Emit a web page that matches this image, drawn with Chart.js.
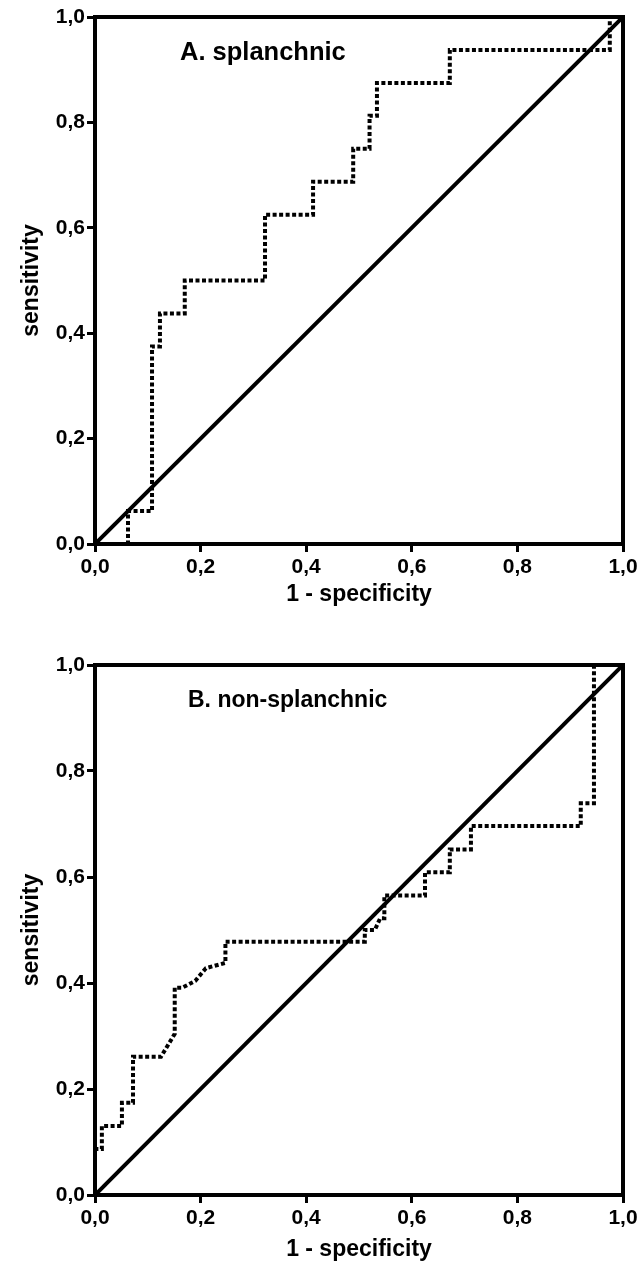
<!DOCTYPE html>
<html>
<head>
<meta charset="utf-8">
<script src="https://cdn.jsdelivr.net/npm/chart.js@4.4.1/dist/chart.umd.min.js"></script>
<style>
  html, body { margin: 0; padding: 0; background: #ffffff; }
  #wrap { position: relative; width: 641px; height: 1279px; overflow: hidden; }
  canvas { position: absolute; left: 0; }
</style>
</head>
<body>
<div id="wrap">
  <canvas id="cA" width="641" height="640" style="top:0px"></canvas>
  <canvas id="cB" width="641" height="639" style="top:640px"></canvas>
</div>
<script>
// ---- data ----
const tickValues = [0, 0.2, 0.4, 0.6, 0.8, 1.0];
const diagX = [0, 1];
const diagY = [0, 1];

// A. splanchnic ROC curve vertices (1 - specificity, sensitivity)
const fprA = [0, 0.0625, 0.0625, 0.108, 0.108, 0.123, 0.123, 0.17, 0.17, 0.322, 0.322, 0.413, 0.413, 0.489, 0.489, 0.52, 0.52, 0.534, 0.534, 0.672, 0.672, 0.975, 0.975, 1];
const tprA = [0, 0, 0.0625, 0.0625, 0.375, 0.375, 0.4375, 0.4375, 0.5, 0.5, 0.625, 0.625, 0.6875, 0.6875, 0.75, 0.75, 0.8125, 0.8125, 0.875, 0.875, 0.9375, 0.9375, 1, 1];

// B. non-splanchnic ROC curve vertices
const fprB = [0, 0, 0.013, 0.013, 0.051, 0.051, 0.072, 0.072, 0.125, 0.151, 0.151, 0.165, 0.19, 0.21, 0.247, 0.247, 0.511, 0.511, 0.53, 0.54, 0.548, 0.548, 0.625, 0.625, 0.672, 0.672, 0.712, 0.712, 0.92, 0.92, 0.945, 0.945, 1];
const tprB = [0, 0.087, 0.087, 0.13, 0.13, 0.174, 0.174, 0.261, 0.261, 0.304, 0.391, 0.391, 0.404, 0.428, 0.438, 0.478, 0.478, 0.5, 0.5, 0.522, 0.522, 0.565, 0.565, 0.609, 0.609, 0.652, 0.652, 0.696, 0.696, 0.739, 0.739, 1, 1];

const panelTitles = ['A. splanchnic', 'B. non-splanchnic'];
const xTitle = '1 - specificity';
const yTitle = 'sensitivity';

// ---- rendering ----
const FONT = "'Liberation Sans', Arial, sans-serif";
const toPts = (xs, ys) => xs.map((x, i) => ({ x: x, y: ys[i] }));
const fmt = v => Number(v).toFixed(1).replace('.', ',');

const framePlugin = {
  id: 'frame',
  afterDatasetsDraw(chart, args, opts) {
    const { ctx, chartArea: a } = chart;
    ctx.save();
    ctx.strokeStyle = '#000';
    ctx.lineWidth = 4;
    ctx.strokeRect(a.left, a.top, a.right - a.left, a.bottom - a.top);
    ctx.fillStyle = '#000';
    ctx.font = 'bold ' + opts.size + 'px ' + FONT;
    ctx.textAlign = 'left';
    ctx.textBaseline = 'middle';
    ctx.fillText(opts.text, a.left + opts.dx, a.top + opts.dy);
    ctx.restore();
  }
};

function makeChart(id, fpr, tpr, title, padTop, plotH, canvasH, titleDx, titleSize, titlePadBottom) {
  const xAxisH = canvasH - padTop - plotH;
  return new Chart(document.getElementById(id), {
    type: 'scatter',
    data: {
      datasets: [
        {
          data: toPts(fpr, tpr),
          showLine: true,
          borderColor: '#000',
          borderWidth: 4,
          borderDash: [4, 2.5],
          pointRadius: 0,
          fill: false,
          tension: 0,
          order: 2
        },
        {
          data: toPts(diagX, diagY),
          showLine: true,
          borderColor: '#000',
          borderWidth: 4,
          pointRadius: 0,
          fill: false,
          order: 1
        }
      ]
    },
    options: {
      responsive: false,
      animation: false,
      devicePixelRatio: 1,
      layout: { padding: { top: padTop, right: 18, left: 0, bottom: 0 } },
      plugins: {
        legend: { display: false },
        tooltip: { enabled: false },
        frame: { text: title, size: titleSize, dx: titleDx, dy: 36 }
      },
      scales: {
        x: {
          type: 'linear', min: 0, max: 1,
          afterBuildTicks: s => { s.ticks = tickValues.map(v => ({ value: v })); },
          afterFit: s => { s.height = xAxisH; },
          grid: { display: true, drawOnChartArea: false, drawTicks: true, tickLength: 8, tickWidth: 3, tickColor: '#000', color: '#000' },
          border: { display: true, color: '#000', width: 4 },
          ticks: { color: '#000', font: { family: FONT, size: 21, weight: 'bold' }, padding: 3, maxRotation: 0, callback: v => fmt(v) },
          title: { display: true, text: xTitle, color: '#000', font: { family: FONT, size: 23, weight: 'bold' }, padding: { top: 0, bottom: titlePadBottom } }
        },
        y: {
          type: 'linear', min: 0, max: 1,
          afterBuildTicks: s => { s.ticks = tickValues.map(v => ({ value: v })); },
          afterFit: s => { s.width = 95; },
          grid: { display: true, drawOnChartArea: false, drawTicks: true, tickLength: 8, tickWidth: 3, tickColor: '#000', color: '#000' },
          border: { display: true, color: '#000', width: 4 },
          ticks: { color: '#000', font: { family: FONT, size: 21, weight: 'bold' }, padding: 2, callback: v => fmt(v) },
          title: { display: true, text: yTitle, color: '#000', font: { family: FONT, size: 23, weight: 'bold' }, padding: { top: 18, bottom: 0 } }
        }
      }
    },
    plugins: [framePlugin]
  });
}

makeChart('cA', fprA, tprA, panelTitles[0], 17, 527, 640, 85, 25.5, 32);
makeChart('cB', fprB, tprB, panelTitles[1], 25, 530, 639, 93, 23, 16);
</script>
</body>
</html>
